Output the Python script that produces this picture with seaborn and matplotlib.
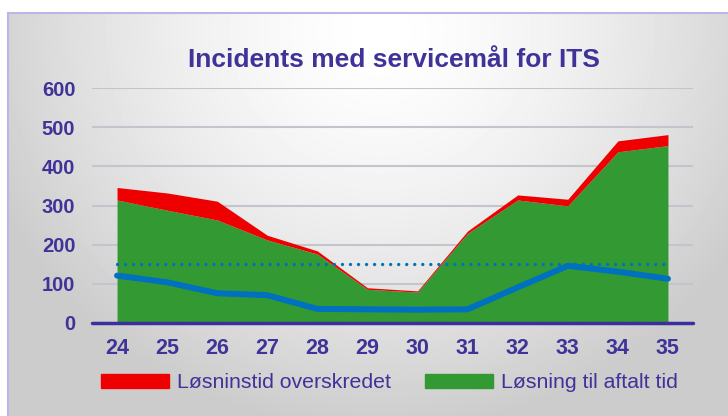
import numpy as np
import matplotlib
matplotlib.use("Agg")
import matplotlib.pyplot as plt
import seaborn as sns
from matplotlib.patches import Patch

# data
weeks = [24, 25, 26, 27, 28, 29, 30, 31, 32, 33, 34, 35]
on_time = [314, 288, 263, 212, 176, 86, 79, 229, 314, 299, 437, 453]
exceeded = [32, 44, 48, 12, 8, 4, 3, 6, 13, 17, 28, 28]
trend = [121, 104, 76, 71, 36, 35, 34, 35, 91, 146, 131, 113]
target = 150
y_ticks = [0, 100, 200, 300, 400, 500, 600]

title = "Incidents med servicemål for ITS"
labels = ["Løsninstid overskredet", "Løsning til aftalt tid"]

RED = "#EE0000"
GREEN = "#339933"
BLUE = "#0070C0"
PURPLE = "#3F3399"

sns.set_theme(style="white")
plt.rcParams["font.family"] = ["Liberation Sans", "DejaVu Sans"]

W, H = 728, 416
fig = plt.figure(figsize=(W / 100, H / 100), dpi=100)

# grey radial background like the Excel chart area
bg = fig.add_axes([0, 0, 1, 1])
yy, xx = np.mgrid[0:H, 0:W]
r = np.hypot(xx - 380, (yy - 30) / 0.95)
shade = 1 - 0.2 * np.clip(r / 420, 0, 1) ** 1.5
shade[(xx < 8) | (yy < 13)] = 1.0
bg.imshow(shade, cmap="gray", vmin=0, vmax=1, extent=(0, W, H, 0),
          aspect="auto", interpolation="bilinear")
bg.plot([8, W], [13, 13], color="#BDB5EA", lw=1.5)
bg.plot([8, 8], [13, H], color="#BDB5EA", lw=1.5)
bg.set_xlim(0, W)
bg.set_ylim(H, 0)
bg.axis("off")

ax = fig.add_axes([92 / W, 1 - 323 / H, (693 - 92) / W, (323 - 88) / H])
ax.patch.set_alpha(0)

total = np.add(on_time, exceeded)
ax.fill_between(weeks, 0, on_time, color=GREEN, lw=0, zorder=2)
ax.fill_between(weeks, on_time, total, color=RED, lw=0, zorder=2)

ax.plot([weeks[0], weeks[-1]], [target, target], color=BLUE, lw=2.4,
        linestyle=(0, (0.01, 2.4)), dash_capstyle="round", zorder=3)
sns.lineplot(x=weeks, y=trend, color=BLUE, lw=4.3, ax=ax, zorder=4,
             solid_capstyle="round", solid_joinstyle="round")

ax.axhline(0, color="#3A2F9C", lw=2.5, zorder=5, clip_on=False)

ax.set_xlim(23.5, 35.5)
ax.set_ylim(0, 600)
ax.set_xticks(weeks)
ax.set_yticks(y_ticks)
ax.yaxis.grid(True, color="#C4C4CC", lw=1.5)
ax.xaxis.grid(False)
ax.set_axisbelow(True)
for s in ax.spines.values():
    s.set_visible(False)
ax.set_xlabel("")
ax.set_ylabel("")
ax.tick_params(axis="y", length=0, pad=12, labelcolor=PURPLE, labelsize=14.5)
ax.tick_params(axis="x", length=0, pad=11, labelcolor=PURPLE, labelsize=15.5)
for t in ax.get_xticklabels() + ax.get_yticklabels():
    t.set_fontweight("bold")

fig.text(393.5 / W, 1 - 67.3 / H, title, ha="center", va="baseline",
         fontsize=19, fontweight="bold", color=PURPLE)

fig.legend(handles=[Patch(color=RED), Patch(color=GREEN)], labels=labels,
           loc="center", bbox_to_anchor=(389.5 / W, 1 - 383 / H), ncol=2,
           frameon=False, fontsize=15.3, handlelength=3.2, handleheight=0.57,
           handletextpad=0.38, columnspacing=1.57, labelcolor=PURPLE)

fig.savefig("out.png", dpi=100)
